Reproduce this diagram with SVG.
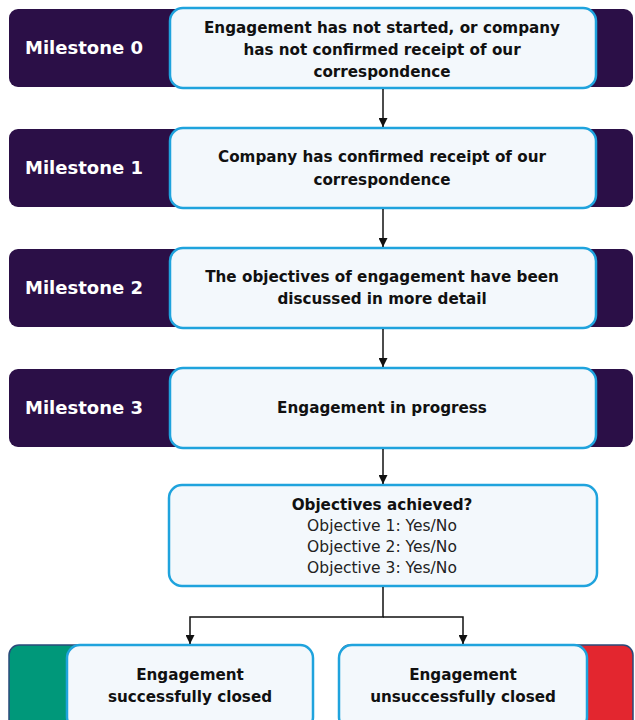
<svg xmlns="http://www.w3.org/2000/svg" width="635" height="720" viewBox="0 0 635 720">
<defs>
<marker id="arr" viewBox="0 0 10 10" refX="10" refY="5" markerWidth="9" markerHeight="9" markerUnits="userSpaceOnUse" orient="auto">
<path d="M0,0 L10,5 L0,10 z" fill="#111"/>
</marker>
</defs>
<style>
.band{fill:#2b0f47;}
.box{fill:#f3f8fc;stroke:#1fa3dd;stroke-width:2.5;}
.ms{font-family:"DejaVu Sans",Verdana,sans-serif;font-weight:bold;font-size:18px;fill:#fff;}
.t{font-family:"DejaVu Sans",Verdana,sans-serif;font-weight:bold;font-size:15.2px;fill:#111;text-anchor:middle;}
.r{font-family:"DejaVu Sans",Verdana,sans-serif;font-size:15.5px;fill:#222;text-anchor:middle;}
.c{stroke:#111;stroke-width:1.5;fill:none;}
</style>
<g id="m0">
<rect class="band" x="9" y="9" width="624" height="78" rx="9"/>
<text class="ms" x="25" y="54">Milestone 0</text>
<rect class="box" x="170" y="8" width="426" height="80" rx="13"/>
<text class="t" x="382" y="33">Engagement has not started, or company</text>
<text class="t" x="382" y="55">has not confirmed receipt of our</text>
<text class="t" x="382" y="77">correspondence</text>
</g>
<g id="m1">
<rect class="band" x="9" y="129" width="624" height="78" rx="9"/>
<text class="ms" x="25" y="174">Milestone 1</text>
<rect class="box" x="170" y="128" width="426" height="80" rx="13"/>
<text class="t" x="382" y="162">Company has confirmed receipt of our</text>
<text class="t" x="382" y="185">correspondence</text>
</g>
<g id="m2">
<rect class="band" x="9" y="249" width="624" height="78" rx="9"/>
<text class="ms" x="25" y="294">Milestone 2</text>
<rect class="box" x="170" y="248" width="426" height="80" rx="13"/>
<text class="t" x="382" y="282">The objectives of engagement have been</text>
<text class="t" x="382" y="304">discussed in more detail</text>
</g>
<g id="m3">
<rect class="band" x="9" y="369" width="624" height="78" rx="9"/>
<text class="ms" x="25" y="414">Milestone 3</text>
<rect class="box" x="170" y="368" width="426" height="80" rx="13"/>
<text class="t" x="382" y="413">Engagement in progress</text>
</g>
<g id="decision">
<rect class="box" x="169" y="485" width="428" height="101" rx="13"/>
<text class="t" x="382" y="510">Objectives achieved?</text>
<text class="r" x="382" y="531">Objective 1: Yes/No</text>
<text class="r" x="382" y="552">Objective 2: Yes/No</text>
<text class="r" x="382" y="573">Objective 3: Yes/No</text>
</g>
<g id="success">
<rect x="9" y="645" width="300" height="85" rx="10" fill="#00987a" stroke="#2a4a7a" stroke-width="1.5"/>
<rect class="box" x="67" y="645" width="246" height="85" rx="13"/>
<text class="t" x="190" y="680">Engagement</text>
<text class="t" x="190" y="702">successfully closed</text>
</g>
<g id="fail">
<rect x="340" y="645" width="293" height="85" rx="10" fill="#e3262f" stroke="#2a4a7a" stroke-width="1.5"/>
<rect class="box" x="339" y="645" width="248" height="85" rx="13"/>
<text class="t" x="463" y="680">Engagement</text>
<text class="t" x="463" y="702">unsuccessfully closed</text>
</g>
<g id="connectors">
<line class="c" x1="383" y1="89" x2="383" y2="127" marker-end="url(#arr)"/>
<line class="c" x1="383" y1="209" x2="383" y2="247" marker-end="url(#arr)"/>
<line class="c" x1="383" y1="329" x2="383" y2="367" marker-end="url(#arr)"/>
<line class="c" x1="383" y1="449" x2="383" y2="484" marker-end="url(#arr)"/>
<polyline class="c" points="383,587 383,617 190,617 190,644" marker-end="url(#arr)"/>
<polyline class="c" points="383,617 463,617 463,644" marker-end="url(#arr)"/>
</g>
</svg>
